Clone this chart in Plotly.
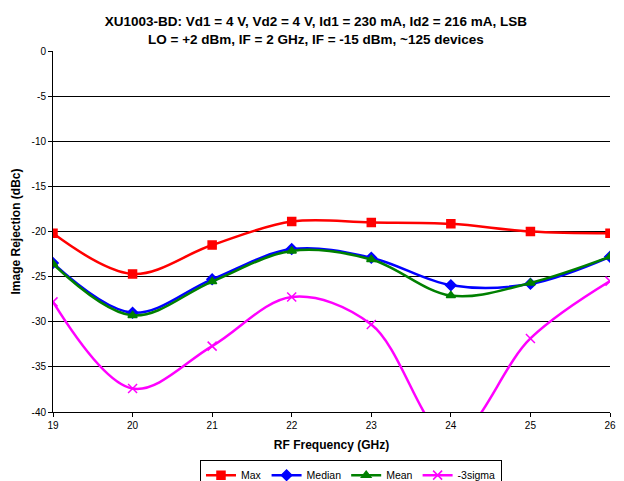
import plotly.graph_objects as go

freq = [19, 20, 21, 22, 23, 24, 25, 26]
max_vals = [-20.2, -24.7, -21.5, -18.9, -19.0, -19.15, -20.0, -20.2]
median_vals = [-23.5, -29.0, -25.3, -21.95, -22.9, -25.95, -25.8, -22.8]
mean_vals = [-23.6, -29.3, -25.55, -22.15, -23.1, -27.1, -25.7, -22.8]
sigma3_vals = [-27.8, -37.4, -32.7, -27.25, -30.3, -43.0, -31.85, -25.5]

y_ticks = [0, -5, -10, -15, -20, -25, -30, -35, -40]

FONT = "Arial, Liberation Sans, sans-serif"

fig = go.Figure()
series = [
    ("Max", max_vals, "#FF0000", "square", 8),
    ("Median", median_vals, "#0000FF", "diamond", 8),
    ("Mean", mean_vals, "#008000", "triangle-up", 8),
    ("-3sigma", sigma3_vals, "#FF00FF", "x-thin-open", 9),
]
for name, vals, color, sym, size in series:
    fig.add_trace(go.Scatter(
        x=freq, y=vals, name=name, mode="lines+markers",
        line=dict(color=color, width=2.5, shape="spline", smoothing=1.0),
        marker=dict(symbol=sym, size=size, color=color,
                    line=dict(color=color, width=1.5)),
    ))

fig.update_layout(
    width=616, height=473,
    margin=dict(l=45, r=14, t=43, b=69, autoexpand=False),
    paper_bgcolor="white", plot_bgcolor="white",
    font=dict(family=FONT, size=10, color="black"),
    title=dict(
        text="XU1003-BD: Vd1 = 4 V, Vd2 = 4 V, Id1 = 230 mA, Id2 = 216 mA, LSB<br>LO = +2 dBm, IF = 2 GHz, IF = -15 dBm, ~125 devices",
        x=0.472, xanchor="center", xref="paper",
        yref="container", y=0.962, yanchor="middle",
        font=dict(family=FONT, size=13.5, color="black", weight="bold"),
    ),
    xaxis=dict(
        range=[19, 26], tickvals=freq, ticktext=[str(f) for f in freq],
        showgrid=False, showline=True, linecolor="black", linewidth=1,
        ticks="outside", ticklen=4, tickcolor="black", zeroline=False,
        automargin=False,
        title=dict(text="<b>RF Frequency (GHz)</b>", standoff=10,
                   font=dict(family=FONT, size=12, color="black")),
    ),
    yaxis=dict(
        range=[-40, 0], tickvals=y_ticks, ticktext=[str(v) for v in y_ticks],
        showgrid=True, gridcolor="black", gridwidth=1,
        showline=True, linecolor="black", linewidth=1,
        ticks="outside", ticklen=4, tickcolor="black", zeroline=False,
        automargin=False,
        title=dict(text="<b>Image Rejection (dBc)</b>", standoff=8,
                   font=dict(family=FONT, size=12, color="black")),
    ),
    legend=dict(
        orientation="h", x=0.535, xanchor="center", y=-0.132, yanchor="top",
        bordercolor="black", borderwidth=1, bgcolor="white",
        font=dict(family=FONT, size=10.5, color="black"),
        itemwidth=30, tracegroupgap=0,
    ),
    showlegend=True,
)

fig.write_html("out.html")
